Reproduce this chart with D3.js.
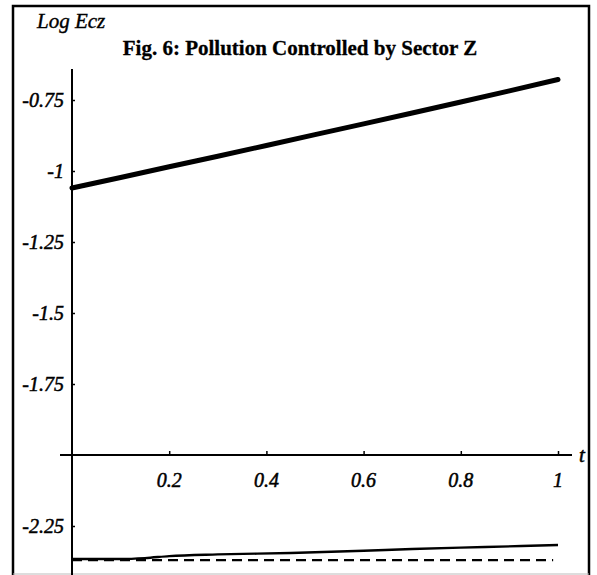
<!DOCTYPE html>
<html><head><meta charset="utf-8">
<script src="https://cdn.jsdelivr.net/npm/d3@7"></script>
<style>html,body{margin:0;padding:0;background:#fff;}svg{display:block;}</style>
</head><body>
<script>
// Data
const title = "Fig. 6: Pollution Controlled by Sector Z";
const yLabel = "Log Ecz";
const xLabel = "t";
const xTicks = [0.2, 0.4, 0.6, 0.8, 1];
const xTickLabels = ["0.2", "0.4", "0.6", "0.8", "1"];
const yTicks = [-0.75, -1, -1.25, -1.5, -1.75, -2.25];
const yTickLabels = ["-0.75", "-1", "-1.25", "-1.5", "-1.75", "-2.25"];
const tTop = [0, 0.1, 0.2, 0.3, 0.4, 0.5, 0.6, 0.7, 0.8, 0.9, 1.0];
const vTop = [-1.060, -1.023, -0.985, -0.948, -0.910, -0.872, -0.834, -0.796, -0.757, -0.718, -0.678];
const tLow = [0, 0.1, 0.15, 0.2, 0.3, 0.45, 0.6, 0.7, 0.85, 1.0];
const vLow = [-2.366, -2.366, -2.363, -2.356, -2.350, -2.345, -2.337, -2.331, -2.324, -2.317];
const tDash = [0, 0.99];
const vDash = [-2.370, -2.370];

const W = 597, H = 575;
const svg = d3.select("body").append("svg").attr("width", W).attr("height", H);
const x = d3.scaleLinear().domain([0, 1]).range([72, 558]);
const y = d3.scaleLinear().domain([-2, -0.75]).range([455, 100]);
const serif = "'Liberation Serif','Times New Roman',serif";

// frame
svg.append("path").attr("d", `M13,${H} L13,6 L589,6 L589,${H}`)
  .attr("fill", "none").attr("stroke", "#000").attr("stroke-width", 2.5);
svg.append("line").attr("x1", 13).attr("x2", 589).attr("y1", 574).attr("y2", 574)
  .attr("stroke", "#bbb").attr("stroke-width", 1);

// y axis
const yAxis = d3.axisRight(y).tickValues(yTicks).tickSize(3).tickFormat("");
const gy = svg.append("g").attr("transform", `translate(${x(0)},0)`).call(yAxis);
gy.select(".domain").remove();
gy.selectAll(".tick line").attr("stroke-width", 1.5);
svg.append("line").attr("x1", x(0)).attr("x2", x(0)).attr("y1", 69).attr("y2", H)
  .attr("stroke", "#000").attr("stroke-width", 2);
svg.selectAll(".ylab").data(yTicks).enter().append("text")
  .attr("x", x(0) - 8).attr("y", d => y(d) + 7)
  .attr("text-anchor", "end").attr("font-family", serif).attr("font-style", "italic")
  .attr("font-size", 20).attr("stroke", "#000").attr("stroke-width", 0.5)
  .text((d, i) => yTickLabels[i]);

// x axis
const xAxis = d3.axisTop(x).tickValues(xTicks).tickSize(4).tickFormat("");
const gx = svg.append("g").attr("transform", `translate(0,${y(-2)})`).call(xAxis);
gx.select(".domain").remove();
gx.selectAll(".tick line").attr("stroke-width", 1.5);
svg.append("line").attr("x1", 60).attr("x2", 572).attr("y1", y(-2)).attr("y2", y(-2))
  .attr("stroke", "#000").attr("stroke-width", 2);
svg.selectAll(".xlab").data(xTicks).enter().append("text")
  .attr("x", d => x(d)).attr("y", 487)
  .attr("text-anchor", "middle").attr("font-family", serif).attr("font-style", "italic")
  .attr("font-size", 20).attr("stroke", "#000").attr("stroke-width", 0.5)
  .text((d, i) => xTickLabels[i]);

// axis labels & title
svg.append("text").attr("x", 37).attr("y", 28).attr("font-family", serif)
  .attr("font-style", "italic").attr("font-size", 21).attr("stroke", "#000").attr("stroke-width", 0.4)
  .text(yLabel);
svg.append("text").attr("x", 582).attr("y", 462).attr("font-family", serif)
  .attr("font-style", "italic").attr("font-size", 21).attr("text-anchor", "middle")
  .attr("stroke", "#000").attr("stroke-width", 0.5).text(xLabel);
svg.append("text").attr("x", 300).attr("y", 55).attr("font-family", serif)
  .attr("font-weight", "bold").attr("font-size", 21).attr("text-anchor", "middle")
  .attr("stroke", "#000").attr("stroke-width", 0.3).text(title);

// lines
const line = d3.line().x(d => x(d[0])).y(d => y(d[1]));
const smooth = d3.line().x(d => x(d[0])).y(d => y(d[1])).curve(d3.curveMonotoneX);
svg.append("path").datum(tTop.map((t, i) => [t, vTop[i]])).attr("d", line)
  .attr("fill", "none").attr("stroke", "#000").attr("stroke-width", 5).attr("stroke-linecap", "round");
svg.append("path").datum(tLow.map((t, i) => [t, vLow[i]])).attr("d", smooth)
  .attr("fill", "none").attr("stroke", "#000").attr("stroke-width", 2.4);
svg.append("path").datum(tDash.map((t, i) => [t, vDash[i]])).attr("d", line)
  .attr("fill", "none").attr("stroke", "#000").attr("stroke-width", 2.4).attr("stroke-dasharray", "10,6");
</script>
</body></html>
